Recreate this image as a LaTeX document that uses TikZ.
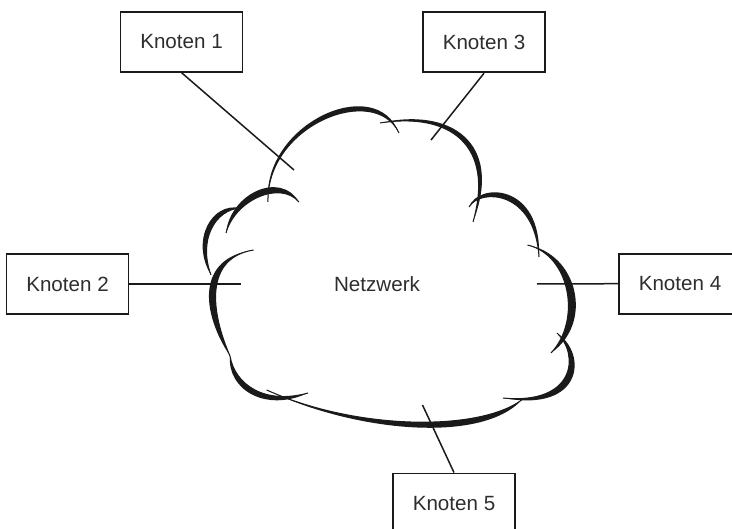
\documentclass[tikz,border=0pt]{standalone}
\usepackage{fontspec}
\setmainfont{Liberation Sans}
\definecolor{ink}{HTML}{1A1A1A}
\definecolor{labelgray}{HTML}{2E2E2E}
% one calligraphic stroke of the cloud outline:
% start, two controls, end, then the two outer controls that give the stroke its swell
\newcommand\cloudlobe[6]{%
  \fill[ink] (#1) .. controls (#2) and (#3) .. (#4) .. controls (#6) and (#5) .. (#1) -- cycle;
  \draw[ink, line width=1pt] (#1) .. controls (#2) and (#3) .. (#4);}
\tikzset{
  knoten/.style={draw=ink, line width=1.9pt, minimum width=122pt, minimum height=60pt,
    inner sep=0pt, text=labelgray, font=\fontsize{20.6}{24}\selectfont},
  link/.style={draw=ink, line width=1.5pt},
  netlabel/.style={text=labelgray, font=\fontsize{20.6}{24}\selectfont}
}
\begin{document}
\begin{tikzpicture}[x=1pt, y=-1pt]
  \fill[white] (0,0) rectangle (732,529);
  \useasboundingbox (0,0) rectangle (732,529);
  \clip (0,0) rectangle (732,529);

  % nodes
  \node[knoten] (k1) at (181.5,41.7) {Knoten 1};
  \node[knoten] (k3) at (484,42.3)   {Knoten 3};
  \node[knoten] (k2) at (67.5,284)   {Knoten 2};
  \node[knoten] (k4) at (680,283.7)  {Knoten 4};
  \node[knoten] (k5) at (454,503.5)  {Knoten 5};
  \node[netlabel] (net) at (377,284) {Netzwerk};

  % cloud outline
  \cloudlobe{268,202}{266,125}{375,82}{399,133}{262,124}{376,72}
  \cloudlobe{380,123}{450,112}{495,145}{473,222}{450,107}{504,142}
  \cloudlobe{469,207}{480,188}{535,190}{539,257}{478,182}{542,183}
  \cloudlobe{527.5,245}{570,255}{582,320}{551,353}{578,254}{594,323}
  \cloudlobe{557,333}{580,355}{575,405}{503,398}{588,354}{583,413}
  \cloudlobe{521.7,400}{478,432}{355,430}{266.7,390}{481,444}{355,432}
  \cloudlobe{308,393}{265,405}{235,385}{230,356}{265,413}{227,389}
  \cloudlobe{230,356}{210,310}{205,258}{253.5,250}{201,312}{196,258}
  \cloudlobe{211,275}{198,240}{215,210}{240,208}{190,240}{212,202}
  \cloudlobe{226,233}{235,200}{280,180}{299,202}{230,194}{280,170}

  % inner ends of the connectors
  \coordinate (e1) at (294,170);
  \coordinate (e3) at (431,140);
  \coordinate (e2) at (241,284);
  \coordinate (e4) at (537,284);
  \coordinate (e5) at (422.5,405);

  % connectors
  \draw[link] (k1.south) -- (e1);
  \draw[link] (k3.south) -- (e3);
  \draw[link] (k2.east) -- (e2);
  \draw[link] (k4.west) -- (e4);
  \draw[link] (k5.north) -- (e5);
\end{tikzpicture}
\end{document}
